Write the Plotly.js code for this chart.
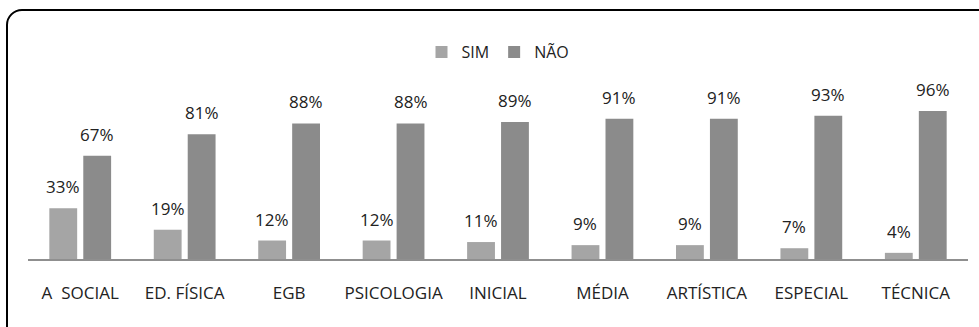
<!DOCTYPE html>
<html>
<head>
<meta charset="utf-8">
<script src="https://cdn.plot.ly/plotly-3.0.1.min.js"></script>
<style>
html,body{margin:0;padding:0;background:#fff;overflow:hidden;}
#chart{width:979px;height:327px;position:absolute;left:0;top:0;}
#frame{position:absolute;left:6px;top:9px;width:1000px;height:360px;border:2.5px solid #000;border-radius:16px;pointer-events:none;box-sizing:border-box;}
</style>
</head>
<body>
<div id="chart"></div>
<div id="frame"></div>
<script>
const categories = ["A  SOCIAL","ED. FÍSICA","EGB","PSICOLOGIA","INICIAL","MÉDIA","ARTÍSTICA","ESPECIAL","TÉCNICA"];
const simValues = [33,19,12,12,11,9,9,7,4];
const naoValues = [67,81,88,88,89,91,91,93,96];
const seriesNames = ["SIM","NÃO"];

const FONT = "'Open Sans', sans-serif";
const colors = ["#a5a5a5","#8b8b8b"];

const traces = [
  {type:'bar', name:seriesNames[0], x:categories, y:simValues, marker:{color:colors[0]}, hoverinfo:'none'},
  {type:'bar', name:seriesNames[1], x:categories, y:naoValues, marker:{color:colors[1]}, hoverinfo:'none'}
];

const annotations = [];
[simValues, naoValues].forEach((vals, si) => {
  vals.forEach((v, i) => {
    annotations.push({
      x: categories[i], y: v, xref:'x', yref:'y',
      xshift: si === 0 ? -17 : 17, yshift: 8,
      text: v + '%', showarrow:false, yanchor:'bottom', xanchor:'center',
      font:{family:FONT, size:17, color:'#222'}
    });
  });
});

const layout = {
  width:979, height:327,
  margin:{l:28, r:11, t:90, b:68},
  paper_bgcolor:'rgba(0,0,0,0)', plot_bgcolor:'rgba(0,0,0,0)',
  barmode:'group', bargap:0.35, bargroupgap:0.18,
  showlegend:true,
  legend:{orientation:'h', x:0.5, xanchor:'center', y:1.225, yanchor:'middle',
          font:{family:FONT, size:16, color:'#222'}, itemwidth:30, tracegroupgap:0},
  xaxis:{type:'category', showline:true, linecolor:'#8f8f8f', linewidth:2,
         ticks:'outside', ticklen:18, tickcolor:'rgba(0,0,0,0)', showgrid:false, zeroline:false,
         tickfont:{family:FONT, size:17, color:'#222'}, fixedrange:true},
  yaxis:{range:[0,109.7], visible:false, showgrid:false, zeroline:false, fixedrange:true},
  annotations: annotations,
  font:{family:FONT}
};

Plotly.newPlot('chart', traces, layout, {displayModeBar:false, staticPlot:true});
</script>
</body>
</html>
